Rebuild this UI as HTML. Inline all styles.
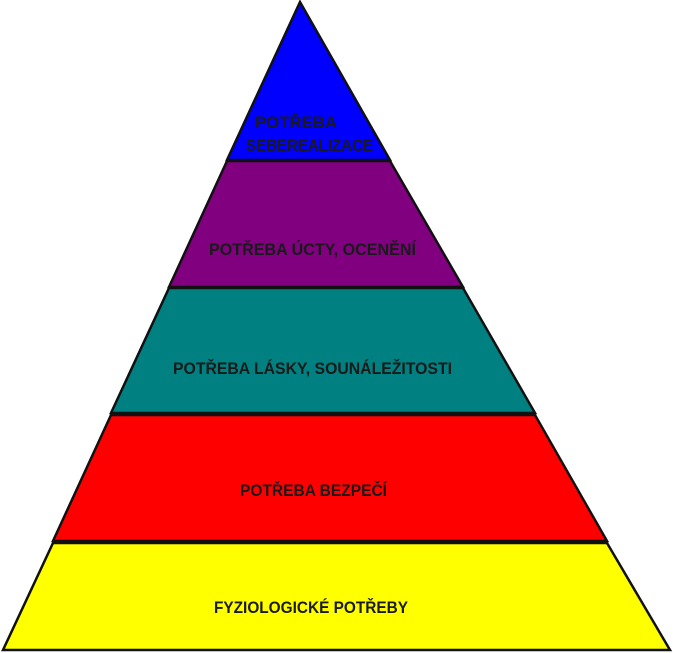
<!DOCTYPE html>
<html><head><meta charset="utf-8"><style>
html,body{margin:0;padding:0;background:#fff;}
svg{display:block;}
text{font-family:"Liberation Sans",sans-serif;font-weight:bold;font-size:17px;fill:#1a1a1a;}
</style></head><body>
<svg width="673" height="653" viewBox="0 0 673 653">
<g stroke="#111" stroke-width="2.5" stroke-linejoin="miter">
<polygon points="300,2 227,160 390,160" fill="#0000ff"/>
<polygon points="227,161 390,161 463,287 169,287" fill="#800080"/>
<polygon points="169,288 463,288 535,413 111,413" fill="#008080"/>
<polygon points="111,415 535,415 607,541 53,541" fill="#ff0000"/>
<polygon points="53,543 607,543 670,650 3,650" fill="#ffff00"/>
</g>
<text x="255" y="128" textLength="82" lengthAdjust="spacingAndGlyphs">POTŘEBA</text>
<text x="246" y="151" textLength="127" lengthAdjust="spacingAndGlyphs">SEBEREALIZACE</text>
<text x="209" y="255" textLength="207" lengthAdjust="spacingAndGlyphs">POTŘEBA ÚCTY, OCENĚNÍ</text>
<text x="173" y="374" textLength="279" lengthAdjust="spacingAndGlyphs">POTŘEBA LÁSKY, SOUNÁLEŽITOSTI</text>
<text x="240" y="496" textLength="147" lengthAdjust="spacingAndGlyphs">POTŘEBA BEZPEČÍ</text>
<text x="214" y="613" textLength="194" lengthAdjust="spacingAndGlyphs">FYZIOLOGICKÉ POTŘEBY</text>
</svg>
</body></html>
